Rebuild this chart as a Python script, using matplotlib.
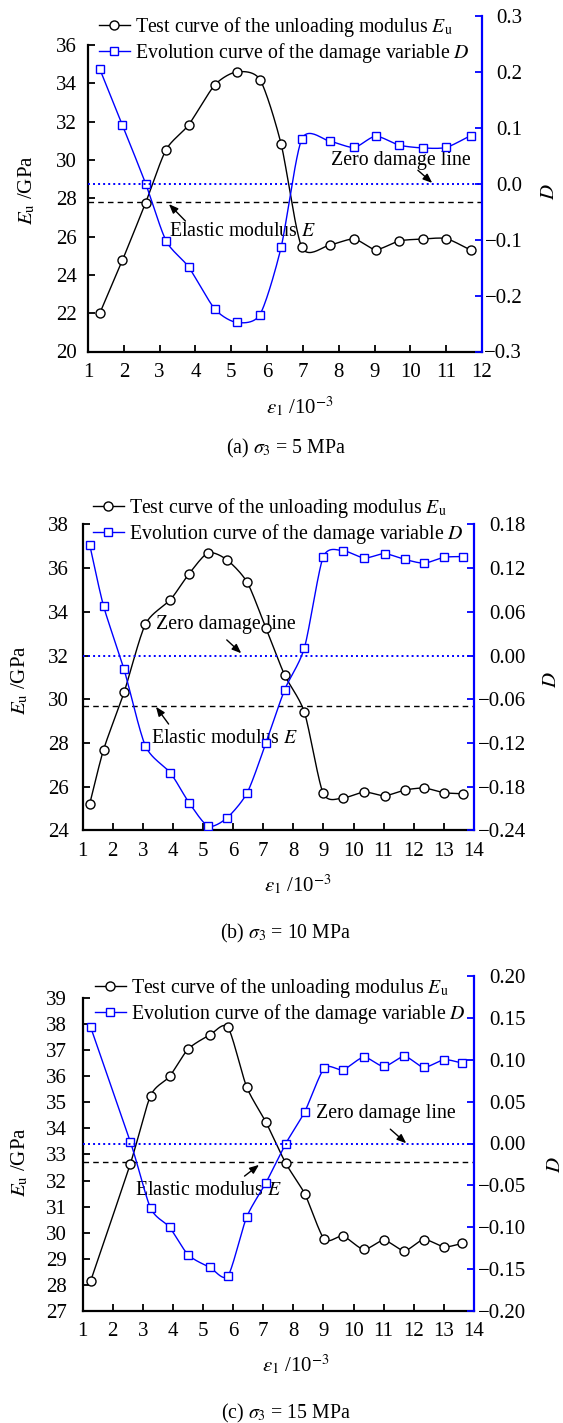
import matplotlib.pyplot as plt
import numpy as np
from matplotlib.lines import Line2D
from matplotlib.ticker import FuncFormatter

plt.rcParams['font.family'] = ['Liberation Serif', 'DejaVu Serif']
plt.rcParams['mathtext.fontset'] = 'stix'

W, H = 563, 1423

# (a) sigma3 = 5 MPa
strain_a = [1.33, 1.96, 2.61, 3.18, 3.81, 4.54, 5.15, 5.80, 6.39, 6.97,
            7.75, 8.43, 9.03, 9.69, 10.35, 11.00, 11.68]
eu_a = [22.00, 24.76, 27.77, 30.53, 31.83, 33.91, 34.59, 34.19, 30.84, 25.44,
        25.56, 25.87, 25.32, 25.77, 25.87, 25.89, 25.30]
dmg_a = [0.205, 0.105, 0.000, -0.102, -0.149, -0.224, -0.248, -0.234, -0.114, 0.080,
         0.076, 0.065, 0.085, 0.069, 0.064, 0.065, 0.086]
e_a = 27.8

# (b) sigma3 = 10 MPa
strain_b = [1.24, 1.70, 2.38, 3.09, 3.92, 4.54, 5.17, 5.79, 6.47, 7.09,
            7.71, 8.37, 8.99, 9.65, 10.36, 11.03, 11.70, 12.35, 13.01, 13.63]
eu_b = [25.22, 27.70, 30.32, 33.44, 34.56, 35.75, 36.70, 36.39, 35.35, 33.26,
        31.12, 29.40, 25.71, 25.49, 25.76, 25.59, 25.85, 25.94, 25.73, 25.68]
dmg_b = [0.152, 0.068, -0.019, -0.124, -0.161, -0.202, -0.234, -0.223, -0.188, -0.120,
         -0.047, 0.011, 0.135, 0.144, 0.134, 0.140, 0.132, 0.127, 0.135, 0.136]
e_b = 29.7

# (c) sigma3 = 15 MPa
strain_c = [1.27, 2.59, 3.26, 3.89, 4.51, 5.23, 5.83, 6.45, 7.09, 7.75,
            8.38, 9.03, 9.65, 10.34, 11.01, 11.69, 12.33, 13.01, 13.61]
eu_c = [28.15, 32.65, 35.25, 35.99, 37.04, 37.58, 37.87, 35.59, 34.24, 32.66,
        31.49, 29.75, 29.87, 29.36, 29.71, 29.31, 29.74, 29.46, 29.59]
dmg_c = [0.139, 0.002, -0.077, -0.100, -0.133, -0.148, -0.158, -0.088, -0.047, 0.000,
         0.038, 0.090, 0.088, 0.103, 0.092, 0.104, 0.091, 0.100, 0.096]
e_c = 32.7

lbl_eu = r'Test curve of the unloading modulus $E_\mathrm{u}$'
lbl_d = r'Evolution curve of the damage variable $D$'


def smooth(x, y, n=24, k=0.75):
    # cubic Hermite curve through the points, tangents damped a little
    p = np.column_stack([x, y]).astype(float)
    q = np.vstack([2 * p[0] - p[1], p, 2 * p[-1] - p[-2]])
    m = k * (q[2:] - q[:-2]) / 2
    t = np.linspace(0, 1, n, endpoint=False)[:, None]
    h00 = 2 * t ** 3 - 3 * t ** 2 + 1
    h10 = t ** 3 - 2 * t ** 2 + t
    h01 = -2 * t ** 3 + 3 * t ** 2
    h11 = t ** 3 - t ** 2
    out = []
    for i in range(len(p) - 1):
        out.append(h00 * p[i] + h10 * m[i] + h01 * p[i + 1] + h11 * m[i + 1])
    out.append(p[-1][None])
    c = np.vstack(out)
    return c[:, 0], c[:, 1]


def fmt(dec):
    def f(v, pos):
        s = f'{v:.{dec}f}'
        if float(s) == 0:
            s = s.lstrip('-')
        return s.replace('-', '\u2212')
    return FuncFormatter(f)


panels = [
    dict(x=strain_a, eu=eu_a, d=dmg_a, e=e_a, tag='(a)', s3='5',
         box=(88, 482, 16, 351.5), xmax=12, ylo=20, yhi=36, ystep=2, ytop=37.51,
         dlim=(-0.3, 0.3), dstep=0.1, ddec=1, lpad=8, rpad=29,
         leg=(99, 15), ylab=(27, 190), dlab=(549, 192), xlab=(300, 407), cap=448,
         zero=((7.79, 29.95), (10.21, 29.46), (10.61, 28.80)),
         elas=((3.26, 26.24), (3.72, 26.81), (3.26, 27.69))),
    dict(x=strain_b, eu=eu_b, d=dmg_b, e=e_b, tag='(b)', s3='10',
         box=(82.5, 474, 524.5, 830.5), xmax=14, ylo=24, yhi=38, ystep=2, ytop=38,
         dlim=(-0.24, 0.18), dstep=0.06, ddec=2, lpad=10, rpad=37.5,
         leg=(93, 496), ylab=(20, 680), dlab=(552, 680), xlab=(298, 885), cap=933,
         zero=((3.44, 33.41), (5.79, 32.72), (6.27, 32.11)),
         elas=((3.29, 28.21), (3.86, 28.87), (3.44, 29.66))),
    dict(x=strain_c, eu=eu_c, d=dmg_c, e=e_c, tag='(c)', s3='15',
         box=(82.5, 474, 976, 1311), xmax=14, ylo=27, yhi=39, ystep=1, ytop=39.84,
         dlim=(-0.2, 0.2), dstep=0.05, ddec=2, lpad=11.5, rpad=37.5,
         leg=(95, 976), ylab=(20, 1162), dlab=(555, 1165), xlab=(296, 1365), cap=1413,
         zero=((8.77, 34.56), (11.22, 33.97), (11.75, 33.43)),
         elas=((2.73, 31.61), (6.38, 32.17), (6.86, 32.60))),
]

fig = plt.figure(figsize=(W / 100, H / 100), dpi=100)
fs = 15
fs_txt = 14.3
arrow = dict(arrowstyle='-|>,head_length=0.55,head_width=0.22', color='k',
             lw=1.0, shrinkA=0, shrinkB=0)

for p in panels:
    x0, x1, top, bot = p['box']
    ax = fig.add_axes([x0 / W, 1 - bot / H, (x1 - x0) / W, (bot - top) / H])
    ax2 = ax.twinx()

    ax.plot(*smooth(p['x'], p['eu']), color='k', lw=1.0, zorder=3)
    ax.plot(p['x'], p['eu'], 'o', mfc='white', mec='k', ms=6.5, mew=1.0, zorder=4)
    ax.axhline(p['e'], color='k', lw=1.0, dashes=(4, 3), zorder=2)

    ax2.plot(*smooth(p['x'], p['d']), color='blue', lw=1.0)
    ax2.plot(p['x'], p['d'], 's', mfc='white', mec='blue', ms=6, mew=1.0)
    ax2.axhline(0, color='blue', lw=1.4, ls=(0, (1, 1.6)))

    ax.set_xlim(1, p['xmax'])
    ax.set_xticks(range(1, p['xmax'] + 1))
    ax.set_ylim(p['ylo'], p['ytop'])
    ax.set_yticks(np.arange(p['ylo'], p['yhi'] + 0.01, p['ystep']))
    ax.spines['left'].set_bounds(p['ylo'], p['yhi'])
    ax.spines['top'].set_visible(False)
    ax.spines['right'].set_visible(False)
    for s in ('left', 'bottom'):
        ax.spines[s].set_linewidth(1.6)
    ax.tick_params(direction='in', length=5, width=1.3, labelsize=fs)
    ax.tick_params(axis='y', pad=p['lpad'])
    ax.tick_params(axis='x', pad=8)

    lo, hi = p['dlim']
    ax2.set_ylim(lo, hi)
    ax2.set_yticks(np.arange(lo, hi + p['dstep'] / 2, p['dstep']))
    ax2.yaxis.set_major_formatter(fmt(p['ddec']))
    for s in ('top', 'left', 'bottom'):
        ax2.spines[s].set_visible(False)
    ax2.spines['right'].set_color('blue')
    ax2.spines['right'].set_linewidth(1.6)
    ax2.tick_params(axis='y', direction='in', length=5, width=1.3, color='blue',
                    labelcolor='k', labelsize=fs, pad=p['rpad'])
    for t in ax2.get_yticklabels():
        t.set_horizontalalignment('right')

    # reference lines and their labels
    (tx, ty), tail, head = p['zero']
    ax.text(tx, ty, 'Zero damage line', fontsize=fs_txt, va='center', ha='left', zorder=2)
    ax.annotate('', xy=head, xytext=tail, arrowprops=arrow, zorder=2)
    (tx, ty), tail, head = p['elas']
    ax.text(tx, ty, r'Elastic modulus $E$', fontsize=fs_txt, va='center', ha='left', zorder=2)
    ax.annotate('', xy=head, xytext=tail, arrowprops=arrow, zorder=2)

    handles = [Line2D([], [], color='k', lw=1.0, marker='o', mfc='white', mec='k', ms=6.5),
               Line2D([], [], color='blue', lw=1.0, marker='s', mfc='white', mec='blue', ms=6)]
    lx, ly = p['leg']
    fig.legend(handles, [lbl_eu, lbl_d], loc='upper left',
               bbox_to_anchor=(lx / W, 1 - ly / H), frameon=False, fontsize=fs_txt,
               handlelength=1.55, handletextpad=0.25, borderpad=0, borderaxespad=0,
               labelspacing=0.1)

    fig.text(p['ylab'][0] / W, 1 - p['ylab'][1] / H, r'$E_\mathrm{u}$ /GPa',
             rotation=90, ha='center', va='center', fontsize=fs)
    fig.text(p['dlab'][0] / W, 1 - p['dlab'][1] / H, r'$D$',
             rotation=90, ha='center', va='center', fontsize=fs)
    fig.text(p['xlab'][0] / W, 1 - p['xlab'][1] / H, r'$\varepsilon_\mathrm{1}$ /10$^{-3}$',
             ha='center', va='center', fontsize=fs)
    fig.text(286 / W, 1 - p['cap'] / H, p['tag'] + r' $\sigma_3$ = ' + p['s3'] + ' MPa',
             ha='center', va='center', fontsize=fs_txt)

fig.savefig('out.png', dpi=100)
